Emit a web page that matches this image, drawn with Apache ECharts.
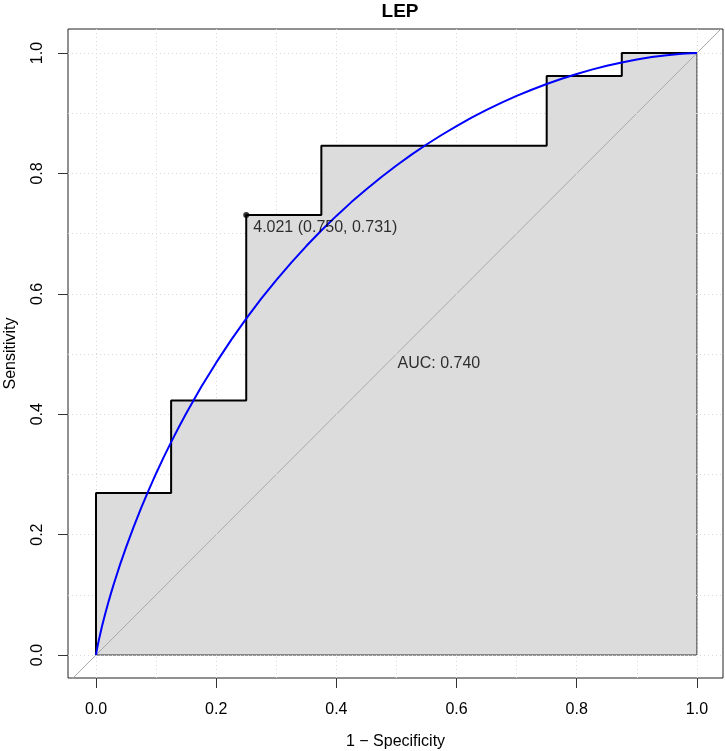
<!DOCTYPE html>
<html>
<head>
<meta charset="utf-8">
<script src="https://cdn.jsdelivr.net/npm/echarts@6/dist/echarts.min.js"></script>
<style>html,body{margin:0;padding:0;background:#fff;}#c{width:725px;height:751px;}</style>
</head>
<body>
<div id="c"></div>
<script>
// Empirical ROC corner points (1 - specificity, sensitivity)
const rocFpr = [0, 0, 0.125, 0.125, 0.25, 0.25, 0.375, 0.375, 0.75, 0.75, 0.875, 0.875, 1];
const rocTpr = [0, 0.269, 0.269, 0.423, 0.423, 0.731, 0.731, 0.846, 0.846, 0.962, 0.962, 1, 1];
// Smoothed ROC curve
const smoothFpr = [0, 0.0005, 0.001, 0.002, 0.003, 0.005, 0.0075, 0.01, 0.015, 0.02, 0.025, 0.03, 0.04, 0.05, 0.0625, 0.075, 0.0875, 0.1, 0.1125, 0.125, 0.1375, 0.15, 0.175, 0.2, 0.225, 0.25, 0.275, 0.3, 0.325, 0.35, 0.375, 0.4, 0.425, 0.45, 0.475, 0.5, 0.525, 0.55, 0.575, 0.6, 0.625, 0.65, 0.675, 0.7, 0.725, 0.75, 0.775, 0.8, 0.825, 0.85, 0.875, 0.9, 0.925, 0.95, 0.975, 0.99, 1];
const smoothTpr = [0, 0.0032, 0.0060, 0.0114, 0.0165, 0.0260, 0.0371, 0.0476, 0.0672, 0.0855, 0.1028, 0.1192, 0.1501, 0.1789, 0.2126, 0.2440, 0.2736, 0.3016, 0.3283, 0.3537, 0.3780, 0.4013, 0.4451, 0.4857, 0.5236, 0.5589, 0.5919, 0.6229, 0.6520, 0.6794, 0.7052, 0.7295, 0.7524, 0.7739, 0.7942, 0.8133, 0.8312, 0.8481, 0.8639, 0.8787, 0.8926, 0.9056, 0.9176, 0.9288, 0.9391, 0.9487, 0.9574, 0.9653, 0.9725, 0.9788, 0.9844, 0.9893, 0.9933, 0.9965, 0.9988, 0.9997, 1];
// Best threshold point
const threshFpr = 0.25;
const threshTpr = 0.731;
const threshLabel = '4.021 (0.750, 0.731)';
const aucLabel = 'AUC: 0.740';
const aucPos = [0.5, 0.5];
// Ticks and grid
const xTicks = [0, 0.2, 0.4, 0.6, 0.8, 1.0];
const yTicks = [0, 0.2, 0.4, 0.6, 0.8, 1.0];
const gridVals = [0, 0.1, 0.2, 0.3, 0.4, 0.5, 0.6, 0.7, 0.8, 0.9, 1.0];
const titleText = 'LEP';
const xName = '1 \u2212 Specificity';
const yName = 'Sensitivity';

const FONT = '"Liberation Sans", Arial, Helvetica, sans-serif';
const rocData = rocFpr.map((x, i) => [x, rocTpr[i]]);
const smoothData = smoothFpr.map((x, i) => [x, smoothTpr[i]]);

const chart = echarts.init(document.getElementById('c'), null, {renderer: 'canvas'});
chart.setOption({
  animation: false,
  backgroundColor: '#ffffff',
  textStyle: {fontFamily: FONT},
  title: {
    text: titleText, left: 395, top: -3, textAlign: 'center',
    textStyle: {fontFamily: FONT, fontSize: 19, fontWeight: 'bold', color: '#000'}
  },
  grid: {left: 68, top: 29, width: 655, height: 649, show: true, borderColor: '#222', borderWidth: 1,
    backgroundColor: 'transparent', containLabel: false, outerBoundsMode: 'none'},
  xAxis: {
    type: 'value', min: -0.0466, max: 1.0434,
    axisLine: {show: false, onZero: false},
    axisTick: {show: true, customValues: xTicks, length: 10, lineStyle: {color: '#333', width: 1}},
    axisLabel: {customValues: xTicks, formatter: v => v.toFixed(1), fontSize: 16, color: '#000', margin: 24, fontFamily: FONT},
    splitLine: {show: false},
    name: xName, nameLocation: 'middle', nameGap: 56,
    nameTextStyle: {fontSize: 16, color: '#000', fontFamily: FONT}
  },
  yAxis: {
    type: 'value', min: -0.0382, max: 1.04,
    axisLine: {show: false, onZero: false},
    axisTick: {show: true, customValues: yTicks, length: 10, lineStyle: {color: '#333', width: 1}},
    axisLabel: {customValues: yTicks, formatter: v => v.toFixed(1), fontSize: 16, color: '#000', margin: 22, rotate: 90, fontFamily: FONT},
    splitLine: {show: false},
    name: yName, nameLocation: 'middle', nameGap: 49,
    nameTextStyle: {fontSize: 16, color: '#000', fontFamily: FONT}
  },
  series: [
    {
      type: 'line', data: [[0, 0]], symbol: 'none', lineStyle: {width: 0}, z: 1, silent: true,
      markLine: {
        silent: true, symbol: 'none', label: {show: false},
        lineStyle: {type: [1, 3], color: '#D8D8D8', width: 1},
        data: gridVals.map(v => ({xAxis: v})).concat(gridVals.map(v => ({yAxis: v})))
      }
    },
    {
      type: 'line', data: rocData, symbol: 'none', lineStyle: {width: 0},
      areaStyle: {color: '#DCDCDC', opacity: 1}, z: 2, silent: true
    },
    {
      type: 'line', data: [[0, 0], [1, 0], [1, 1]], symbol: 'none',
      lineStyle: {color: '#333', width: 1}, z: 3, silent: true
    },
    {
      type: 'line', data: [[-0.1, -0.1], [1.1, 1.1]], symbol: 'none',
      lineStyle: {color: '#A9A9A9', width: 1}, z: 4, silent: true
    },
    {
      type: 'line', data: rocData, symbol: 'none',
      lineStyle: {color: '#000', width: 2}, z: 5, silent: true
    },
    {
      type: 'line', data: smoothData, symbol: 'none', smooth: false,
      lineStyle: {color: '#0000FF', width: 2}, z: 6, silent: true
    },
    {
      type: 'scatter', data: [[threshFpr, threshTpr]], symbol: 'circle', symbolSize: 6,
      itemStyle: {color: '#000'}, z: 7, silent: true,
      label: {show: true, formatter: threshLabel, position: [10, 8], align: 'left', verticalAlign: 'top',
        fontSize: 16, color: '#000', fontFamily: FONT}
    },
    {
      type: 'scatter', data: [aucPos], symbol: 'circle', symbolSize: 0, z: 8, silent: true,
      label: {show: true, formatter: aucLabel, position: [1, 2], align: 'left', verticalAlign: 'top',
        fontSize: 16, color: '#000', fontFamily: FONT}
    }
  ]
});
</script>
</body>
</html>
